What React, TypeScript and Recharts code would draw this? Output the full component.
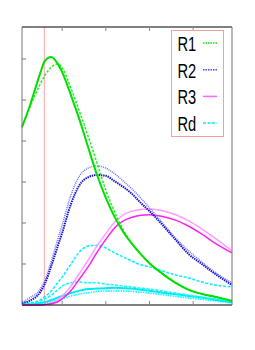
import { LineChart, Line, XAxis, YAxis, ReferenceLine } from "recharts";

const xs = [-0.92, -0.75, -0.5, -0.4, -0.25, -0.1, 0, 0.2, 0.4, 0.6, 0.8, 1.0, 1.2, 1.4, 1.6, 1.8, 2.0, 2.3, 2.6, 2.9, 3.2, 3.5, 3.89];

const r1Solid = [4.34, 4.83, 5.66, 5.95, 6.05, 5.88, 5.68, 5.12, 4.51, 3.83, 3.17, 2.61, 2.15, 1.78, 1.49, 1.24, 1.02, 0.76, 0.54, 0.37, 0.27, 0.2, 0.1];
const r1Dash = [4.34, 4.8, 5.39, 5.59, 5.8, 5.88, 5.78, 5.29, 4.71, 4.1, 3.46, 2.8, 2.27, 1.83, 1.5, 1.24, 1.02, 0.76, 0.54, 0.37, 0.27, 0.2, 0.1];
const r2Dark = [0.05, 0.1, 0.32, 0.51, 0.95, 1.44, 1.76, 2.46, 2.93, 3.12, 3.17, 3.15, 3.02, 2.88, 2.71, 2.49, 2.29, 1.95, 1.59, 1.24, 1.0, 0.76, 0.49];
const r2Light = [0.07, 0.17, 0.39, 0.59, 1.07, 1.61, 1.95, 2.68, 3.15, 3.34, 3.39, 3.34, 3.2, 3.02, 2.83, 2.61, 2.37, 2.0, 1.63, 1.32, 1.05, 0.8, 0.54];
const r3Dark = [0, 0, 0, 0.01, 0.03, 0.08, 0.15, 0.35, 0.64, 0.94, 1.29, 1.6, 1.88, 2.05, 2.14, 2.19, 2.2, 2.16, 2.07, 1.92, 1.73, 1.51, 1.27];
const r3Light = [0, 0, 0, 0.01, 0.05, 0.12, 0.22, 0.46, 0.78, 1.1, 1.44, 1.74, 2.02, 2.2, 2.29, 2.33, 2.34, 2.3, 2.2, 2.05, 1.85, 1.63, 1.32];
const rdA = [0.02, 0.05, 0.12, 0.2, 0.34, 0.55, 0.68, 1.0, 1.3, 1.44, 1.46, 1.39, 1.27, 1.17, 1.07, 0.98, 0.93, 0.83, 0.73, 0.66, 0.56, 0.49, 0.44];
const rdB = [0.02, 0.04, 0.1, 0.15, 0.24, 0.37, 0.46, 0.54, 0.56, 0.54, 0.54, 0.51, 0.49, 0.46, 0.44, 0.41, 0.39, 0.34, 0.29, 0.24, 0.19, 0.15, 0.12];
const rdC = [0, 0.01, 0.05, 0.07, 0.12, 0.18, 0.22, 0.29, 0.35, 0.39, 0.4, 0.41, 0.42, 0.41, 0.4, 0.37, 0.35, 0.3, 0.26, 0.22, 0.18, 0.13, 0.07];
const rdD = [0, 0.01, 0.03, 0.05, 0.08, 0.12, 0.15, 0.22, 0.27, 0.3, 0.33, 0.34, 0.34, 0.34, 0.33, 0.31, 0.29, 0.25, 0.21, 0.17, 0.14, 0.1, 0.05];

const xTicks = [0, 1, 2, 3];
const yTicks = [1, 2, 3, 4, 5, 6];
const markerX = -0.41;

const legendItems = [
  { label: "R1", color: "#00ee00", dash: "1.5 1" },
  { label: "R2", color: "#4848ff", dash: "1.5 1" },
  { label: "R3", color: "#ff66ff", dash: "" },
  { label: "Rd", color: "#00e8ff", dash: "3 1.5" },
];

const rows = xs.map((x, i) => ({
  x,
  r1a: r1Solid[i],
  r1b: r1Dash[i],
  r2a: r2Dark[i],
  r2b: r2Light[i],
  r3a: r3Dark[i],
  r3b: r3Light[i],
  rda: rdA[i],
  rdb: rdB[i],
  rdc: rdC[i],
  rdd: rdD[i],
}));

const noLabel = () => "";

function LegendBox() {
  return (
    <svg width={255} height={350} style={{ position: "absolute", left: 0, top: 0, pointerEvents: "none" }}>
      <rect x={171.5} y={30.5} width={52} height={106} fill="#fff" stroke="#f4a0a0" />
      {legendItems.map((it, i) => {
        const base = 51 + i * 26.7;
        return (
          <g key={it.label}>
            <text
              transform={`translate(177.5 ${base}) scale(0.7 1)`}
              fontFamily="'Liberation Sans', Arial, sans-serif"
              fontSize={21}
              fill="#000"
            >
              {it.label}
            </text>
            <line x1={203} y1={base - 8} x2={217} y2={base - 8} stroke={it.color} strokeWidth={1.5} strokeDasharray={it.dash || undefined} />
          </g>
        );
      })}
    </svg>
  );
}

export default function App() {
  return (
    <div style={{ position: "absolute", left: 0, top: 0, width: 255, height: 350, background: "#fff" }}>
      <LineChart width={255} height={350} data={rows} margin={{ top: 27, right: 23, bottom: 45, left: 22 }}>
        <XAxis
          xAxisId="b"
          dataKey="x"
          type="number"
          domain={[-0.92, 3.89]}
          ticks={xTicks}
          mirror
          tickSize={4}
          tickFormatter={noLabel}
          stroke="#000"
          tickLine={{ stroke: "#888" }}
          height={1}
        />
        <XAxis
          xAxisId="t"
          orientation="top"
          dataKey="x"
          type="number"
          domain={[-0.92, 3.89]}
          ticks={xTicks}
          mirror
          tickSize={4}
          tickFormatter={noLabel}
          stroke="#000"
          tickLine={{ stroke: "#888" }}
          height={1}
        />
        <YAxis
          yAxisId="l"
          type="number"
          domain={[0, 6.78]}
          ticks={yTicks}
          mirror
          tickSize={4}
          tickFormatter={noLabel}
          stroke="#777"
          width={1}
        />
        <YAxis
          yAxisId="r"
          orientation="right"
          type="number"
          domain={[0, 6.78]}
          ticks={yTicks}
          mirror
          tickSize={4}
          tickFormatter={noLabel}
          stroke="#777"
          width={1}
        />
        <ReferenceLine xAxisId="b" yAxisId="l" x={markerX} stroke="#ffa0a0" strokeWidth={1} />
        <Line xAxisId="b" yAxisId="l" dataKey="rdd" type="monotone" stroke="#00ffff" strokeWidth={1.5} strokeDasharray="1.5 1" dot={false} isAnimationActive={false} />
        <Line xAxisId="b" yAxisId="l" dataKey="rdc" type="monotone" stroke="#00e8f0" strokeWidth={2} dot={false} isAnimationActive={false} />
        <Line xAxisId="b" yAxisId="l" dataKey="rdb" type="monotone" stroke="#00ffff" strokeWidth={1.5} strokeDasharray="3 1.5" dot={false} isAnimationActive={false} />
        <Line xAxisId="b" yAxisId="l" dataKey="rda" type="monotone" stroke="#00f0ff" strokeWidth={1.5} strokeDasharray="3 1.5" dot={false} isAnimationActive={false} />
        <Line xAxisId="b" yAxisId="l" dataKey="r3b" type="monotone" stroke="#ff9cff" strokeWidth={1.5} dot={false} isAnimationActive={false} />
        <Line xAxisId="b" yAxisId="l" dataKey="r3a" type="monotone" stroke="#ff22ee" strokeWidth={1.5} dot={false} isAnimationActive={false} />
        <Line xAxisId="b" yAxisId="l" dataKey="r2b" type="monotone" stroke="#7070ff" strokeWidth={1.5} strokeDasharray="1 1" dot={false} isAnimationActive={false} />
        <Line xAxisId="b" yAxisId="l" dataKey="r2a" type="monotone" stroke="#1818d8" strokeWidth={2} strokeDasharray="1.5 0.8" dot={false} isAnimationActive={false} />
        <Line xAxisId="b" yAxisId="l" dataKey="r1b" type="monotone" stroke="#22ee22" strokeWidth={1.5} strokeDasharray="2.5 1.5" dot={false} isAnimationActive={false} />
        <Line xAxisId="b" yAxisId="l" dataKey="r1a" type="monotone" stroke="#00e000" strokeWidth={2} dot={false} isAnimationActive={false} />
      </LineChart>
      <LegendBox />
    </div>
  );
}
